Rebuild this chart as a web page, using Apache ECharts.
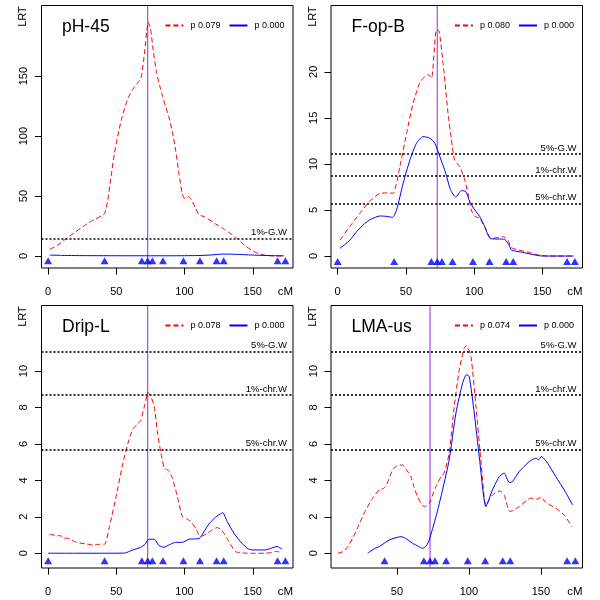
<!DOCTYPE html>
<html><head><meta charset="utf-8">
<script src="https://cdn.jsdelivr.net/npm/echarts@6/dist/echarts.min.js"></script>
<style>html,body{margin:0;padding:0;background:#fff}#c{width:600px;height:600px}</style>
</head><body><div id="c"></div>
<script>
// ---- data ----
const panelTitles = ['pH-45', 'F-op-B', 'Drip-L', 'LMA-us'];
const redNames = ['p 0.079', 'p 0.080', 'p 0.078', 'p 0.074'];
const blueName = 'p 0.000';
const markerPos = [0, 41.4, 68.7, 73, 76.4, 84.2, 99.2, 111.3, 123.5, 128.7, 168.2, 173.9];
const qtlPos = 73;
const xTicks = [0, 50, 100, 150];
const yTicks1 = [0, 50, 100, 150];
const yTicks2 = [0, 5, 10, 15, 20];
const yTicks34 = [0, 2, 4, 6, 8, 10];
const thr1 = [{name: '1%-G.W', value: 14.8}];
const thrStd = [{name: '5%-G.W', value: 11.07}, {name: '1%-chr.W', value: 8.68}, {name: '5%-chr.W', value: 5.69}];

const ph45Red = [[1.2,5.6],[7,9],[13.4,14.7],[20,20],[25.5,24.5],[30,28],[35,31],[40,34],[41.5,35.6],[43.5,45],[46,65],[48.5,85],[51,100],[54,115],[58,130],[61.5,138],[64.5,143],[68,148],[70.5,168],[73.4,195],[75,190],[77,172],[79.5,153],[82,141],[84,133],[86,125],[88.5,116],[91,104],[93.5,88],[96,68],[98.3,52],[100,48],[103,49.5],[105.5,46],[108,40],[110.6,34.5],[115,32.5],[122.8,26.7],[130,21.7],[137.4,15.6],[144.7,8.3],[152,3.1],[159,0.6],[166.5,0],[171.4,0]];
const ph45Blue = [[1.2,0.8],[10,0.5],[30,0.3],[60,0.2],[90,0.2],[110,0.4],[120,0.9],[128,1.6],[135,1.5],[150,0.8],[165,0.3],[173,0.2]];

const fopRed = [[1.7,1.74],[8.9,3.2],[16,4.6],[23.2,5.9],[31,6.8],[37.6,6.85],[40.7,6.8],[45.6,9.7],[50.5,13.3],[55.3,16.6],[60.2,18.8],[63.9,19.5],[66.3,19.7],[68.8,19.3],[72.4,24.6],[74.4,24.4],[77.3,20.9],[80.9,15.5],[83.4,12.6],[85.8,10.4],[89.5,9.7],[93.1,8.3],[95.6,6.8],[98,5.0],[100.5,4.3],[104.1,4.1],[109,2.8],[112.7,1.9],[121.2,2.1],[124.8,1.74],[127,0.95],[130.9,0.72],[140.4,0.4],[147.6,0.1],[154.8,0],[173,0]];
const fopBlue = [[1.7,0.83],[8.9,1.7],[13.6,2.6],[19.6,3.5],[24.4,4.0],[31,4.35],[36,4.3],[40.2,4.2],[43.2,5.0],[48,7.9],[52.9,10.4],[57.8,12.25],[62.6,12.97],[67.5,12.8],[71.2,12.25],[74.9,10.8],[79.2,9.0],[82.7,7.2],[86.6,6.4],[90.7,7.1],[93.9,7.0],[96.8,5.9],[100.5,5.0],[104.1,4.3],[107.8,3.2],[111.9,1.9],[122.4,1.8],[125.6,1.2],[127.5,0.65],[135.6,0.4],[145.2,0.1],[150,0],[173,0]];

const dripRed = [[1.2,1.04],[6,0.97],[9.7,0.95],[11,0.83],[14.6,0.82],[20.7,0.6],[28,0.51],[32.8,0.46],[37.7,0.49],[41.3,0.49],[45,1.47],[49.8,3.1],[54.7,4.9],[58.4,6.0],[62,6.8],[65.6,7.1],[68,7.3],[71,8.2],[73.4,8.83],[75.4,8.6],[77.8,8.06],[80.2,6.6],[82.7,5.5],[85.1,4.7],[88.7,4.5],[91.2,4.1],[94.8,3.1],[98.5,2.0],[102,1.87],[104.5,1.74],[108.2,1.37],[110.6,1.0],[113,0.95],[116.7,1.1],[120.3,1.28],[124,1.41],[126.4,1.32],[128.9,1.1],[132.5,0.64],[137.4,0.09],[142.2,0.02],[150,0],[159,0],[164,0.04],[167,0.1],[171.4,0.04]];
const dripBlue = [[0,0],[20,0],[40,0],[56,0.01],[62,0.18],[68,0.33],[71,0.5],[73,0.73],[74.5,0.77],[77.8,0.77],[81.4,0.42],[85.1,0.33],[88.7,0.46],[93.6,0.6],[98.5,0.6],[103.3,0.77],[110.6,0.8],[114.3,1.19],[117.9,1.61],[122.8,1.98],[127.2,2.2],[128,2.23],[131.3,1.74],[136.2,1.1],[141,0.64],[145.9,0.27],[149.5,0.18],[159,0.18],[164,0.29],[167.8,0.37],[171.4,0.22]];

const lmaRed = [[9,0],[12.5,0.09],[16,0.37],[19.6,0.88],[23.1,1.47],[27.8,2.29],[32.4,2.93],[37.7,3.5],[40.6,3.55],[42.5,3.7],[47,4.58],[50,4.8],[53.9,4.85],[56.5,4.6],[59.7,4.2],[62,3.6],[64.3,3.1],[67,2.7],[69,2.56],[72.4,2.75],[77.1,3.66],[80.6,4.2],[82.8,4.4],[86.3,5.5],[89.8,8.05],[93.3,10.07],[96.7,11.26],[98.3,11.39],[101.4,10.8],[104.9,8.05],[108.3,5.13],[111.8,2.65],[116.4,3.2],[121.5,3.42],[124.5,3.2],[128.5,2.29],[134.9,2.56],[143,3.02],[147.6,2.97],[150,3.08],[153.5,2.78],[160.4,2.47],[166.2,2.1],[171.5,1.46]];
const lmaBlue = [[29.6,0],[34.8,0.27],[37.7,0.36],[44.7,0.73],[52.8,0.91],[56,0.82],[60.8,0.55],[65.2,0.37],[67.8,0.27],[70.5,0.42],[72.4,0.73],[77.1,2.0],[81.7,3.48],[86.3,5.13],[91,7.7],[95.6,9.34],[98.3,9.8],[100.2,9.7],[103.7,7.7],[107.2,5.3],[111.8,2.56],[116.4,3.48],[121,4.2],[124.5,4.4],[128,3.88],[130.3,3.94],[134.9,4.48],[141.9,5.03],[146.5,5.22],[148.3,5.13],[150.4,5.31],[154.6,4.95],[160.4,4.2],[166.2,3.48],[172,2.65]];

// ---- layout / style ----
const FONT = '"Liberation Sans", Arial, Helvetica, sans-serif';
const RED = '#FF0000', BLUE = '#0000FF', PURPLE = '#A020F0';
const panels = [
  {red: ph45Red, blue: ph45Blue, thr: thr1, yTicks: yTicks1, ymin: -10, ymax: 208.9, xmin: -4.85, xmax: 179.5, mY: -3.9, left: 41.5, top: 5.5},
  {red: fopRed, blue: fopBlue, thr: thrStd, yTicks: yTicks2, ymin: -1.3, ymax: 27.2, xmin: -4.9, xmax: 179.5, mY: -0.6, left: 331, top: 5.5},
  {red: dripRed, blue: dripBlue, thr: thrStd, yTicks: yTicks34, ymin: -0.81, ymax: 13.6, xmin: -4.85, xmax: 179.5, mY: -0.41, left: 41.5, top: 305.5},
  {red: lmaRed, blue: lmaBlue, thr: thrStd, yTicks: yTicks34, ymin: -0.81, ymax: 13.6, xmin: 4.2, xmax: 178.9, mY: -0.41, left: 331, top: 305.5}
];
const W = 251.5, H = 262.5;

const grid = [], xAxis = [], yAxis = [], series = [], legend = [], title = [], graphic = [];
panels.forEach((p, i) => {
  grid.push({left: p.left, top: p.top, width: W, height: H, show: true, borderColor: '#000', borderWidth: 1, backgroundColor: 'transparent'});
  const xt = xTicks.filter(v => v >= p.xmin);
  xAxis.push({
    type: 'value', gridIndex: i, min: p.xmin, max: p.xmax, position: 'bottom',
    axisLine: {show: false, onZero: false}, splitLine: {show: false}, axisPointer: {show: false},
    axisTick: {show: true, inside: false, length: 6.5, lineStyle: {color: '#000'}, customValues: xt},
    axisLabel: {show: true, margin: 18.5, color: '#000', fontSize: 11, fontFamily: FONT, customValues: xt}
  });
  yAxis.push({
    type: 'value', gridIndex: i, min: p.ymin, max: p.ymax, position: 'left',
    axisLine: {show: false, onZero: false}, splitLine: {show: false}, axisPointer: {show: false},
    axisTick: {show: true, inside: false, length: 6.5, lineStyle: {color: '#000'}, customValues: p.yTicks},
    axisLabel: {show: true, rotate: 90, margin: 12, color: '#000', fontSize: 11, fontFamily: FONT, customValues: p.yTicks}
  });
  const thrData = p.thr.map(t => ({yAxis: t.value, name: t.name,
      label: {show: true, formatter: t.name, position: 'insideEndTop', distance: [6, 1], color: '#000', fontSize: 9.5, fontFamily: FONT}}));
  // QTL position: vertical reference line spanning the full axis range
  series.push({
    type: 'line', name: 'QTL', xAxisIndex: i, yAxisIndex: i,
    data: [[qtlPos, p.ymin], [qtlPos, p.ymax]],
    symbol: 'none', lineStyle: {color: PURPLE, width: 1, type: 'solid'}, itemStyle: {color: PURPLE},
    z: 2, silent: true, animation: false
  });
  series.push({
    type: 'line', name: redNames[i], xAxisIndex: i, yAxisIndex: i, data: p.red,
    symbol: 'none', smooth: 0.2, lineStyle: {color: RED, width: 1, type: [5, 3]}, itemStyle: {color: RED},
    z: 3, silent: true, animation: false,
    markLine: {silent: true, symbol: 'none', animation: false,
      lineStyle: {color: '#000', type: [2, 2], width: 1.6}, data: thrData}
  });
  series.push({
    type: 'line', name: blueName, xAxisIndex: i, yAxisIndex: i, data: p.blue,
    symbol: 'none', smooth: 0.2, lineStyle: {color: BLUE, width: 1, type: 'solid'}, itemStyle: {color: BLUE},
    z: 4, silent: true, animation: false
  });
  series.push({
    type: 'scatter', xAxisIndex: i, yAxisIndex: i, clip: true,
    data: markerPos.map(m => [m, p.mY]),
    symbol: 'triangle', symbolSize: [8, 7], itemStyle: {color: BLUE}, z: 5, silent: true, animation: false
  });
  const rightEdge = p.left + W;
  legend.push({
    data: [redNames[i], blueName], right: 600 - rightEdge + 3.5, top: p.top + 10.5,
    itemWidth: 18, itemHeight: 10, itemGap: 8, selectedMode: false,
    itemStyle: {opacity: 0},
    textStyle: {fontSize: 9, fontFamily: FONT, color: '#000', padding: [0, 0, 0, 2]}
  });
  title.push({text: panelTitles[i], left: p.left + 15.5, top: p.top + 7.5,
    textStyle: {fontSize: 17.5, fontWeight: 'normal', fontFamily: FONT, color: '#000'}});
  graphic.push({type: 'text', x: p.left - 18.5, y: p.top + 11, rotation: Math.PI / 2,
    style: {text: 'LRT', font: '11px ' + FONT, fill: '#000', align: 'center', verticalAlign: 'middle'}});
  graphic.push({type: 'text', x: rightEdge - 7.5, y: p.top + 286,
    style: {text: 'cM', font: '11.5px ' + FONT, fill: '#000', align: 'center', verticalAlign: 'middle'}});
});

const chart = echarts.init(document.getElementById('c'), null, {renderer: 'canvas'});
chart.setOption({animation: false, backgroundColor: '#fff', grid, xAxis, yAxis, series, legend, title, graphic});
</script></body></html>
